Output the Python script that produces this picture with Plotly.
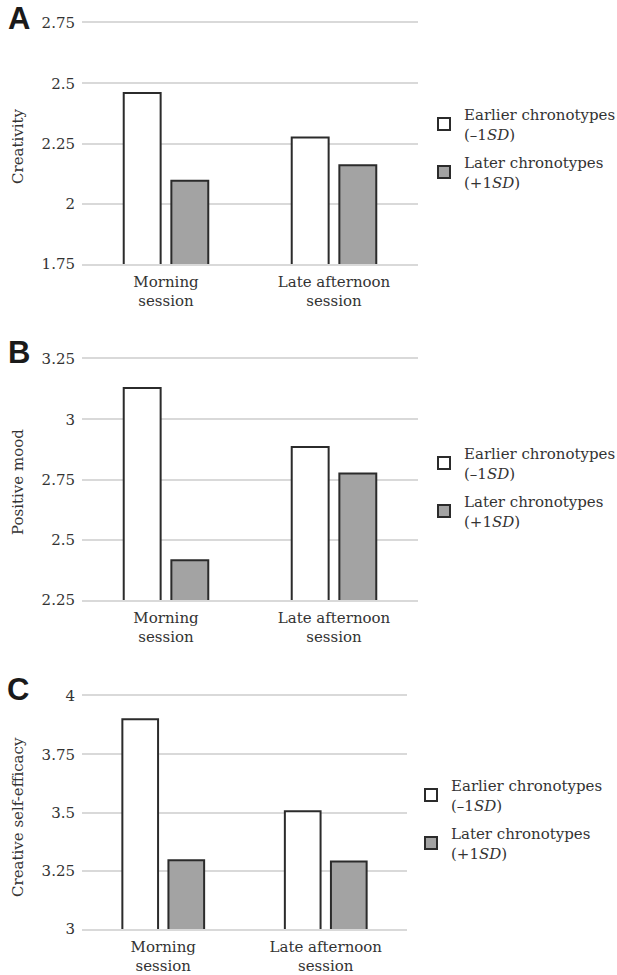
import plotly.graph_objects as go

W, H = 617, 975

categories = ["Morning<br>session", "Late afternoon<br>session"]
series_names = ["Earlier chronotypes<br>(–1<i>SD</i>)", "Later chronotypes<br>(+1<i>SD</i>)"]

creativity_earlier = [2.46, 2.275]
creativity_later = [2.095, 2.16]
mood_earlier = [3.13, 2.885]
mood_later = [2.415, 2.775]
efficacy_earlier = [3.90, 3.505]
efficacy_later = [3.295, 3.29]

y_titles = ["Creativity", "Positive mood", "Creative self-efficacy"]
panel_letters = ["A", "B", "C"]
y_ranges = [[1.75, 2.75], [2.25, 3.25], [3.0, 4.0]]

FONT = "DejaVu Serif"
TXT = "#333333"
GRID = "#d9d9d9"
EDGE = "#2b2b2b"
FILL_GREY = "#a3a3a3"


def px_x(x):
    return x / W


def px_y(y):
    return 1 - y / H


# panel geometry in pixels: (left, right, top, bottom)
panels = [(82, 418, 23, 264), (82, 418, 359, 600), (82, 407, 696, 929)]
legend_pos = [(424, 148), (424, 487), (411, 819)]
title_pos = [(18, 146), (18, 482), (18, 817)]
letter_pos = [(18.5, 21), (19, 354), (17.5, 691)]

data = [
    (creativity_earlier, creativity_later),
    (mood_earlier, mood_later),
    (efficacy_earlier, efficacy_later),
]

fig = go.Figure()
legend_keys = ["legend", "legend2", "legend3"]

for i, (early, late) in enumerate(data):
    xa = "x" if i == 0 else f"x{i+1}"
    ya = "y" if i == 0 else f"y{i+1}"
    for j, (vals, fill) in enumerate([(early, "white"), (late, FILL_GREY)]):
        fig.add_trace(go.Bar(
            x=categories, y=vals, name=series_names[j],
            marker=dict(color=fill, line=dict(color=EDGE, width=2)),
            xaxis=xa, yaxis=ya, legend=legend_keys[i],
            legendgroup=f"g{i}{j}", hoverinfo="skip",
        ))

layout = dict(
    width=W, height=H,
    margin=dict(l=0, r=0, t=0, b=0, autoexpand=False),
    paper_bgcolor="white", plot_bgcolor="white",
    barmode="group", bargap=0.433, bargroupgap=0.225,
    font=dict(family=FONT, size=15, color=TXT),
    showlegend=True,
)

annotations = []
for i in range(3):
    l, r, t, b = panels[i]
    xk = "xaxis" if i == 0 else f"xaxis{i+1}"
    yk = "yaxis" if i == 0 else f"yaxis{i+1}"
    anchor_x = "y" if i == 0 else f"y{i+1}"
    anchor_y = "x" if i == 0 else f"x{i+1}"
    lo, hi = y_ranges[i]
    layout[xk] = dict(
        domain=[px_x(l), px_x(r)], anchor=anchor_x,
        showgrid=False, zeroline=False, ticks="",
        showline=True, linecolor=GRID, linewidth=1.6, mirror=True,
        tickfont=dict(family=FONT, size=15, color=TXT),
        ticklabelstandoff=3,
        fixedrange=True, automargin=False,
    )
    layout[yk] = dict(
        domain=[px_y(b), px_y(t)], anchor=anchor_y,
        range=[lo, hi], dtick=0.25, tick0=lo,
        showgrid=True, gridcolor=GRID, gridwidth=1.6,
        showline=False, zeroline=False, ticks="",
        tickfont=dict(family=FONT, size=15, color=TXT),
        ticklabelstandoff=6, fixedrange=True, automargin=False,
    )
    lx, ly = legend_pos[i]
    layout[legend_keys[i]] = dict(
        x=px_x(lx), y=px_y(ly), xanchor="left", yanchor="middle",
        xref="paper", yref="paper",
        font=dict(family=FONT, size=15, color=TXT),
        bgcolor="rgba(0,0,0,0)", borderwidth=0,
        tracegroupgap=6, itemclick=False, itemdoubleclick=False,
    )
    tx, ty = title_pos[i]
    annotations.append(dict(
        text=y_titles[i], x=px_x(tx), y=px_y(ty), xref="paper", yref="paper",
        xanchor="center", yanchor="middle", textangle=-90, showarrow=False,
        font=dict(family=FONT, size=15, color=TXT),
    ))
    cx, cy = letter_pos[i]
    annotations.append(dict(
        text=f"<b>{panel_letters[i]}</b>", x=px_x(cx), y=px_y(cy - 2),
        xref="paper", yref="paper", xanchor="center", yanchor="middle",
        showarrow=False,
        font=dict(family="Liberation Sans", size=31, color="#1a1a1a"),
    ))

layout["annotations"] = annotations
fig.update_layout(**layout)

fig.write_html(
    "out.html",
    config={"displayModeBar": False, "staticPlot": False},
    post_script="document.body.style.margin='0';document.body.style.padding='0';",
)
